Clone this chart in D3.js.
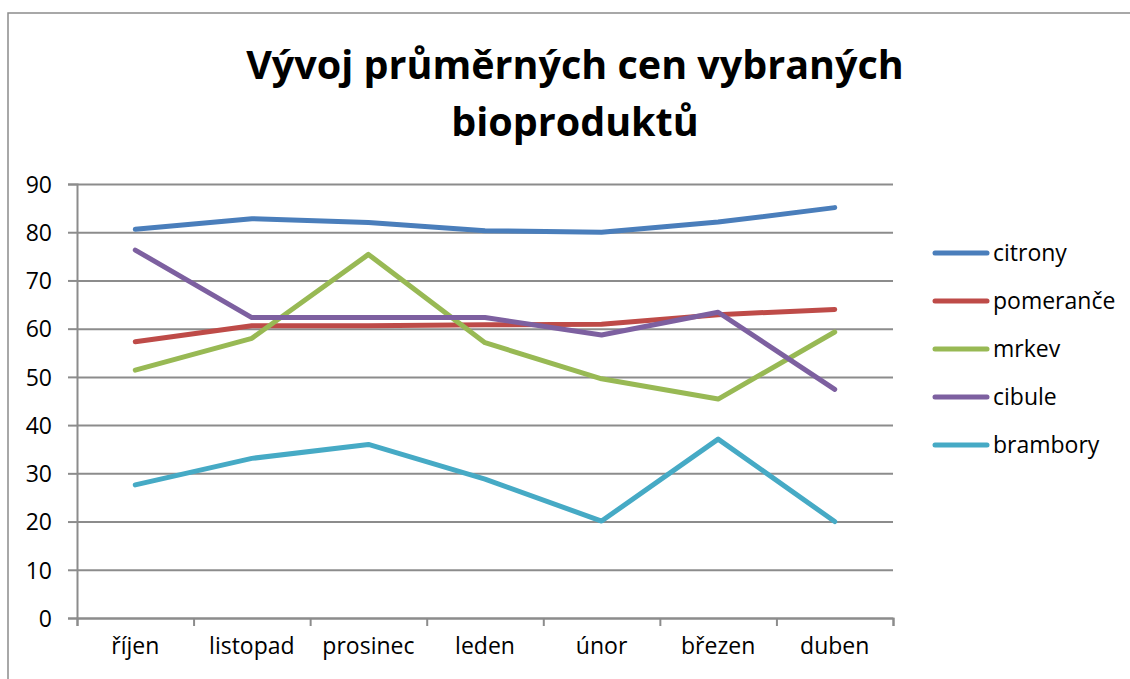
<!DOCTYPE html>
<html>
<head>
<meta charset="utf-8">
<script src="https://cdn.jsdelivr.net/npm/d3@7"></script>
<style>
  body { margin: 0; background: #fff; }
  svg text { font-family: "Open Sans", sans-serif; fill: #000; }
  .grid line { stroke: #8c8c8c; stroke-width: 2; }
  .grid .domain { display: none; }
  .axis path, .axis line { stroke: #8c8c8c; stroke-width: 2; }
  .line { fill: none; stroke-width: 5; stroke-linecap: round; stroke-linejoin: round; }
</style>
</head>
<body>
<div id="chart"></div>
<script>
var months = ["říjen", "listopad", "prosinec", "leden", "únor", "březen", "duben"];
var seriesNames = ["citrony", "pomeranče", "mrkev", "cibule", "brambory"];
var citrony   = [80.6, 82.8, 82.0, 80.3, 80.0, 82.1, 85.1];
var pomerance = [57.3, 60.6, 60.6, 60.8, 60.9, 62.9, 64.0];
var mrkev     = [51.4, 58.0, 75.4, 57.1, 49.6, 45.4, 59.3];
var cibule    = [76.3, 62.3, 62.3, 62.3, 58.7, 63.4, 47.4];
var brambory  = [27.6, 33.1, 36.0, 28.8, 20.1, 37.1, 20.0];
var yTicks = [0, 10, 20, 30, 40, 50, 60, 70, 80, 90];
var colors = ["#4a7ebb", "#be4b48", "#98b954", "#7d60a0", "#46aac5"];

var seriesValues = [citrony, pomerance, mrkev, cibule, brambory];

var svg = d3.select("#chart").append("svg")
    .attr("width", 1130)
    .attr("height", 679);

// outer chart border (runs off the right and bottom edges)
svg.append("rect")
    .attr("x", 8).attr("y", 13)
    .attr("width", 1140).attr("height", 690)
    .attr("fill", "none")
    .attr("stroke", "#8c8c8c")
    .attr("stroke-width", 1.5);

var margin = {top: 184, left: 77};
var width = 816, height = 434;

var x = d3.scaleBand().domain(months).range([0, width]);
var xEdge = d3.scaleLinear().domain([0, months.length]).range([0, width]);
var y = d3.scaleLinear().domain([0, 90]).range([height, 0]);

var g = svg.append("g").attr("transform", "translate(" + margin.left + "," + margin.top + ")");

// horizontal gridlines
g.append("g")
    .attr("class", "grid")
    .call(d3.axisLeft(y).tickValues(yTicks).tickSize(-width).tickFormat(""));

// y axis
var yAxis = g.append("g")
    .attr("class", "axis")
    .call(d3.axisLeft(y).tickValues(yTicks).tickSize(9).tickPadding(16));
yAxis.selectAll("text").attr("font-size", 23).attr("dy", "0.36em");

// x axis ticks on category edges
g.append("g")
    .attr("class", "axis")
    .attr("transform", "translate(0," + height + ")")
    .call(d3.axisBottom(xEdge).tickValues(d3.range(months.length + 1)).tickSize(8).tickFormat(""));

// x labels
var xAxis = g.append("g")
    .attr("transform", "translate(0," + height + ")")
    .call(d3.axisBottom(x).tickSize(0).tickPadding(20));
xAxis.select(".domain").remove();
xAxis.selectAll("text").attr("font-size", 23);

// series lines
var line = d3.line()
    .x(function(d, i) { return x(months[i]) + x.bandwidth() / 2; })
    .y(function(d) { return y(d); });

seriesValues.forEach(function(vals, i) {
  g.append("path")
      .attr("class", "line")
      .attr("stroke", colors[i])
      .attr("d", line(vals));
});

// legend
var legend = svg.append("g").attr("transform", "translate(935,253)");
seriesNames.forEach(function(name, i) {
  var row = legend.append("g").attr("transform", "translate(0," + (i * 48) + ")");
  row.append("line")
      .attr("x1", 0).attr("x2", 52)
      .attr("stroke", colors[i])
      .attr("stroke-width", 5)
      .attr("stroke-linecap", "round");
  row.append("text")
      .attr("x", 58)
      .attr("dy", "0.36em")
      .attr("font-size", 23)
      .text(name);
});

// title
var title = svg.append("text")
    .attr("text-anchor", "middle")
    .attr("font-weight", "bold")
    .attr("font-size", 39.5);
title.append("tspan").attr("x", 575).attr("y", 79).text("Vývoj průměrných cen vybraných");
title.append("tspan").attr("x", 575).attr("y", 136).text("bioproduktů");
</script>
</body>
</html>
